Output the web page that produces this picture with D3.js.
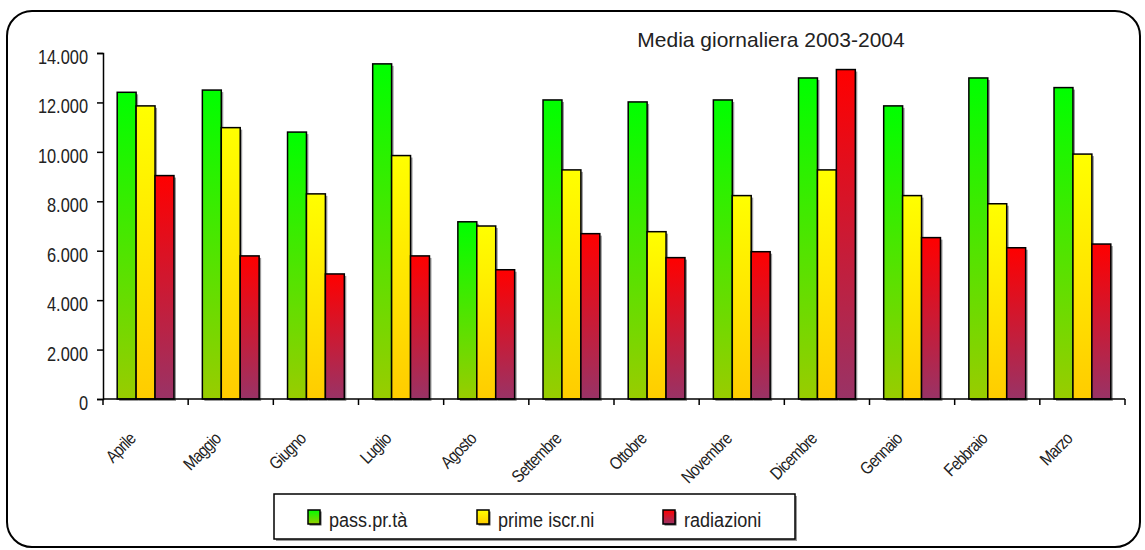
<!doctype html>
<meta charset="utf-8">
<script src="https://d3js.org/d3.v7.min.js"></script>
<style>
body { margin: 0; background: #fff; }
text { font-family: "Liberation Sans", Arial, sans-serif; fill: #222; }
</style>
<body>
<script>

var width = 1145;
var height = 550;

var months = ["Aprile", "Maggio", "Giugno", "Luglio", "Agosto", "Settembre",
              "Ottobre", "Novembre", "Dicembre", "Gennaio", "Febbraio", "Marzo"];
var passPrta = [12410, 12500, 10800, 13560, 7170, 12100, 12020, 12100, 12990, 11860, 12990, 12600];
var primeIscr = [11860, 10980, 8300, 9850, 7000, 9270, 6770, 8230, 9270, 8230, 7900, 9910];
var radiazioni = [9040, 5790, 5060, 5790, 5230, 6690, 5720, 5960, 13330, 6530, 6120, 6270];
var seriesNames = ["pass.pr.tà", "prime iscr.ni", "radiazioni"];
var yTicks = [0, 2000, 4000, 6000, 8000, 10000, 12000, 14000];

var series = [passPrta, primeIscr, radiazioni];
var gradients = [["#00ff00", "#99cc00"], ["#ffff00", "#ffcc00"], ["#ff0000", "#993366"]];

var svg = d3.select("body")
        .append("svg")
        .attr("width", width)
        .attr("height", height);

var defs = svg.append("defs");
gradients.forEach(function(g, i){
    var lg = defs.append("linearGradient")
            .attr("id", "grad" + i)
            .attr("x1", 0).attr("y1", 0)
            .attr("x2", 0).attr("y2", 1);
    lg.append("stop").attr("offset", "0%").attr("stop-color", g[0]);
    lg.append("stop").attr("offset", "100%").attr("stop-color", g[1]);
});

// chart frame
svg.append("rect")
        .attr("x", 7)
        .attr("y", 11)
        .attr("width", 1133)
        .attr("height", 536)
        .attr("rx", 25)
        .style("fill", "#fff")
        .style("stroke", "#000")
        .style("stroke-width", 2);

var x0 = d3.scaleBand()
        .domain(months)
        .range([103, 1125]);

var bw = x0.bandwidth() / 4.5;

var y = d3.scaleLinear()
        .domain([0, 14000])
        .range([399, 53]);

// title
svg.append("text")
        .attr("x", 771)
        .attr("y", 47)
        .attr("text-anchor", "middle")
        .style("font-size", "21px")
        .text("Media giornaliera 2003-2004");

// bars
series.forEach(function(values, s){
    var g = svg.append("g");
    g.selectAll("rect.shadow")
            .data(values)
            .enter()
            .append("rect")
            .attr("x", function(d, i){ return x0(months[i]) + bw * (0.75 + s) + 2; })
            .attr("y", function(d){ return y(d) + 2; })
            .attr("width", bw)
            .attr("height", function(d){ return y(0) - y(d); })
            .style("fill", "#999");
    g.selectAll("rect.bar")
            .data(values)
            .enter()
            .append("rect")
            .attr("x", function(d, i){ return x0(months[i]) + bw * (0.75 + s); })
            .attr("y", function(d){ return y(d); })
            .attr("width", bw)
            .attr("height", function(d){ return y(0) - y(d); })
            .style("fill", "url(#grad" + s + ")")
            .style("stroke", "#000")
            .style("stroke-width", 1.5);
});

// y axis
var yAxis = svg.append("g")
        .attr("transform", "translate(103,0)")
        .call(d3.axisLeft(y)
            .tickValues(yTicks)
            .tickSize(6)
            .tickFormat(""));
yAxis.select(".domain").style("stroke", "#000").style("stroke-width", 1.5);
yAxis.selectAll(".tick line").style("stroke", "#000").style("stroke-width", 1.5);

svg.selectAll("text.ylab")
        .data(yTicks)
        .enter()
        .append("text")
        .attr("text-anchor", "end")
        .attr("transform", function(d){ return "translate(88," + (y(d) + 11) + ") scale(0.82,1)"; })
        .style("font-size", "20px")
        .text(function(d){ return d3.format(",")(d).replace(/,/g, "."); });

// x axis
var xBounds = months.map(function(m){ return x0(m); }).concat([x0.range()[1]]);
svg.append("line")
        .attr("x1", 103).attr("x2", 1125)
        .attr("y1", 399).attr("y2", 399)
        .style("stroke", "#000").style("stroke-width", 1.5);
svg.selectAll("line.xtick")
        .data(xBounds)
        .enter()
        .append("line")
        .attr("x1", function(d){ return d; })
        .attr("x2", function(d){ return d; })
        .attr("y1", 399).attr("y2", 405)
        .style("stroke", "#000").style("stroke-width", 1.5);

svg.selectAll("text.month")
        .data(months)
        .enter()
        .append("text")
        .attr("text-anchor", "end")
        .attr("transform", function(d){
            return "translate(" + (x0(d) + x0.bandwidth() / 2 - 9) + ",440) rotate(-45) scale(0.85,1)";
        })
        .style("font-size", "17.5px")
        .style("letter-spacing", "-0.9px")
        .text(function(d){ return d; });

// legend
var legend = svg.append("g");
legend.append("rect")
        .attr("x", 276).attr("y", 496)
        .attr("width", 521).attr("height", 45)
        .style("fill", "#999");
legend.append("rect")
        .attr("x", 274).attr("y", 494)
        .attr("width", 521).attr("height", 45)
        .style("fill", "#fff")
        .style("stroke", "#000")
        .style("stroke-width", 1.5);

var legendX = [308, 477, 663];
seriesNames.forEach(function(name, i){
    legend.append("rect")
            .attr("x", legendX[i] + 1.5).attr("y", 511.5)
            .attr("width", 12).attr("height", 14)
            .style("fill", "#555");
    legend.append("rect")
            .attr("x", legendX[i]).attr("y", 510)
            .attr("width", 12).attr("height", 14)
            .style("fill", "url(#grad" + i + ")")
            .style("stroke", "#000")
            .style("stroke-width", 1.5);
    legend.append("text")
            .attr("transform", "translate(" + (legendX[i] + 21) + ",527) scale(0.86,1)")
            .style("font-size", "21px")
            .text(name);
});

</script>
